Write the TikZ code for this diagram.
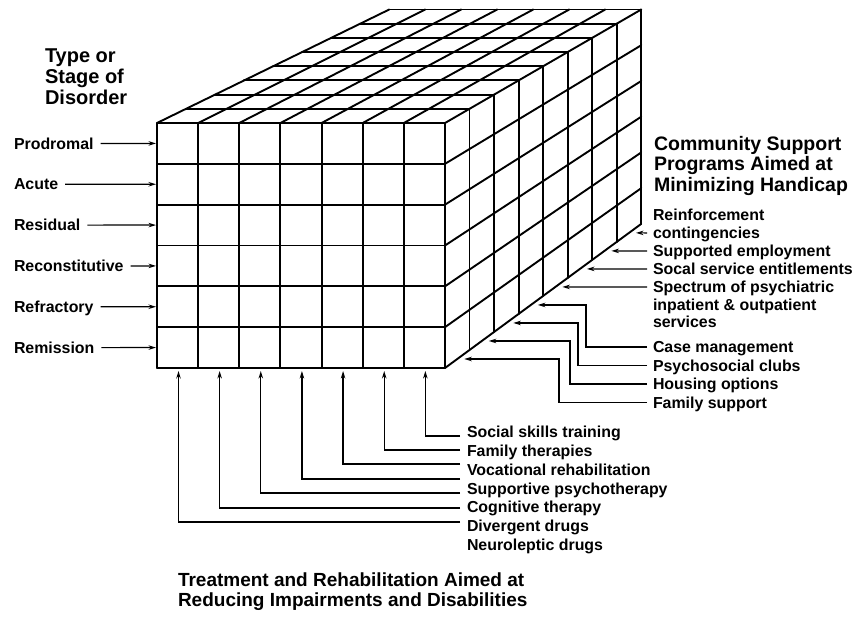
\documentclass[tikz,border=0pt]{standalone}
\usepackage{fontspec}
\setmainfont{Liberation Sans}
\usetikzlibrary{calc,arrows.meta}
\begin{document}
\begin{tikzpicture}[x=1pt,y=-1pt,
  cube/.style={line width=1.9pt, line cap=round, line join=round},
  arr/.style={line width=1.2pt, -{Stealth[length=7.5pt,width=4.5pt]}},
  lab/.style={font=\fontsize{15.9}{18}\selectfont\bfseries, inner sep=0pt, outer sep=0pt, text height=11.4pt, text depth=0pt, anchor=west},
  ttl/.style={font=\fontsize{19.5}{20.5}\selectfont\bfseries, inner sep=0pt, outer sep=0pt, align=left, anchor=north west}]
\useasboundingbox (0,0) rectangle (866,621);
\coordinate (V) at (2015,-785);
% front face
\foreach \i in {0,...,7} \draw[cube] (157+\i*41.143,123) -- (157+\i*41.143,368);
\foreach \j in {0,...,6} \draw[cube] (157,123+\j*40.833) -- (445,123+\j*40.833);
% top face: depth lines
\foreach \i in {0,...,7} \draw[cube] (157+\i*41.143,123) -- ($(157+\i*41.143,123)!0.125!(V)$);
% top face: cross lines
\foreach \d [evaluate=\d as \s using 1-\d/64] in {1,...,8}
  \draw[cube] ($(V)!\s!(157,123)$) -- ($(V)!\s!(445,123)$);
% right face: depth lines
\foreach \j in {1,...,6} \draw[cube] (445,123+\j*40.833) -- ($(445,123+\j*40.833)!0.125!(V)$);
% right face: verticals
\foreach \d [evaluate=\d as \s using 1-\d/64] in {1,...,8}
  \draw[cube] ($(V)!\s!(445,123)$) -- ($(V)!\s!(445,368)$);
% bottom edge of right face, mid-layer points
\foreach \k [evaluate=\k as \s using 1-(\k+0.5)/64] in {0,...,7}
  \coordinate (e\k) at ($(V)!\s!(445,368)$);
% left face targets
\foreach \j [evaluate=\j as \yy using 123+(\j+0.5)*40.833] in {0,...,5}
  \coordinate (r\j) at (156,\yy);
% bottom face targets
\foreach \i [evaluate=\i as \xx using 178.5+\i*41.143] in {0,...,6}
  \coordinate (b\i) at (\xx,371);

% titles
\node[ttl, font=\fontsize{20}{21}\selectfont\bfseries] (tleft) at (45,49) {Type or\\Stage of\\Disorder};
\node[ttl] (tright) at (654,136) {Community Support\\Programs Aimed at\\Minimizing Handicap};
\node[ttl, font=\fontsize{19}{20}\selectfont\bfseries] (tbottom) at (178,573) {Treatment and Rehabilitation Aimed at\\Reducing Impairments and Disabilities};

% left labels
\node[lab] (prod) at (14,143.4) {Prodromal};
\node[lab] (acute) at (14,184.2) {Acute};
\node[lab] (resid) at (14,225.1) {Residual};
\node[lab] (recon) at (14,265.9) {Reconstitutive};
\node[lab] (refr) at (14,306.7) {Refractory};
\node[lab] (remis) at (14,347.6) {Remission};
\draw[arr] ([xshift=7pt]prod.east) -- (r0);
\draw[arr] ([xshift=7pt]acute.east) -- (r1);
\draw[arr] ([xshift=7pt]resid.east) -- (r2);
\draw[arr] ([xshift=7pt]recon.east) -- (r3);
\draw[arr] ([xshift=7pt]refr.east) -- (r4);
\draw[arr] ([xshift=7pt]remis.east) -- (r5);

% right labels
\node[lab] (rein1) at (653,215) {Reinforcement};
\node[lab] (rein2) at (653,232.9) {contingencies};
\node[lab] (supp) at (653,250.9) {Supported employment};
\node[lab] (socal) at (653,268.9) {Socal service entitlements};
\node[lab] (spec1) at (653,286.9) {Spectrum of psychiatric};
\node[lab] (spec2) at (653,304.4) {inpatient \& outpatient};
\node[lab] (spec3) at (653,321.9) {services};
\node[lab] (case) at (653,347) {Case management};
\node[lab] (psych) at (653,365.5) {Psychosocial clubs};
\node[lab] (house) at (653,384) {Housing options};
\node[lab] (fam) at (653,402.5) {Family support};
\draw[arr] ([xshift=-6pt]rein2.west) -- ([xshift=7pt]e7);
\draw[arr] ([xshift=-6pt]supp.west) -- ([xshift=7pt]e6);
\draw[arr] ([xshift=-6pt]socal.west) -- ([xshift=7pt]e5);
\draw[arr] ([xshift=-6pt]spec1.west) -- ([xshift=7pt]e4);
\draw[arr] ([xshift=-6pt]case.west) -- ++(-61,0) |- ([xshift=7pt]e3);
\draw[arr] ([xshift=-6pt]psych.west) -- ++(-69,0) |- ([xshift=7pt]e2);
\draw[arr] ([xshift=-6pt]house.west) -- ++(-77,0) |- ([xshift=7pt]e1);
\draw[arr] ([xshift=-6pt]fam.west) -- ++(-88,0) |- ([xshift=7pt]e0);

% bottom labels
\node[lab] (soc) at (467,432) {Social skills training};
\node[lab] (famt) at (467,450.8) {Family therapies};
\node[lab] (voc) at (467,469.6) {Vocational rehabilitation};
\node[lab] (supt) at (467,488.4) {Supportive psychotherapy};
\node[lab] (cog) at (467,507.2) {Cognitive therapy};
\node[lab] (div) at (467,526) {Divergent drugs};
\node[lab] (neur) at (467,544.8) {Neuroleptic drugs};
\coordinate (t6) at (460,436);
\coordinate (t5) at (460,450);
\coordinate (t4) at (460,464);
\coordinate (t3) at (460,479);
\coordinate (t2) at (460,493);
\coordinate (t1) at (460,508);
\coordinate (t0) at (460,522);
\foreach \i in {0,...,6} \draw[arr] (t\i) -| (b\i);
\end{tikzpicture}
\end{document}
